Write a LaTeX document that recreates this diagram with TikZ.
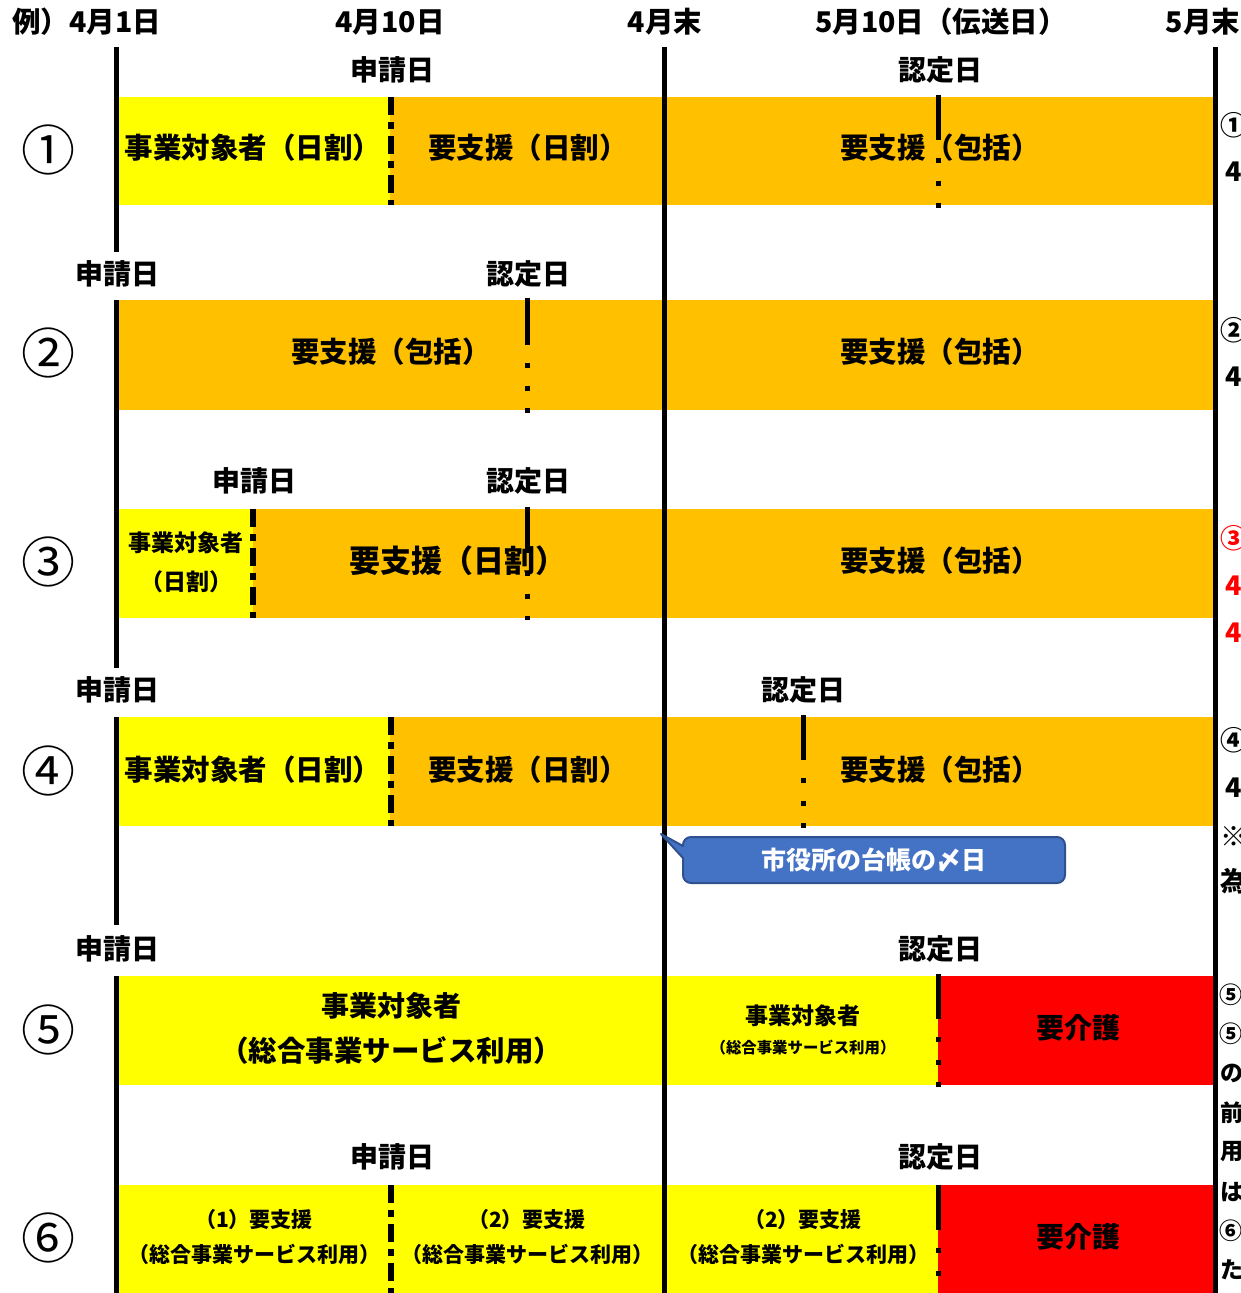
\documentclass[tikz,border=0pt]{standalone}
\usepackage{fontspec}
\setmainfont{Noto Sans CJK JP}
\definecolor{yel}{HTML}{FFFF00}
\definecolor{org}{HTML}{FFC000}
\definecolor{rd}{HTML}{FF0000}
\definecolor{bl}{HTML}{4472C4}
\definecolor{bld}{HTML}{2F528F}
\begin{document}
\begin{tikzpicture}[x=1pt,y=-1pt,
  lbl/.style={font=\fontsize{28}{32}\selectfont\bfseries, inner sep=0pt},
  hdr/.style={font=\fontsize{28.5}{32}\selectfont\bfseries, inner sep=0pt},
  bar/.style={font=\fontsize{28.5}{32}\selectfont\bfseries, inner sep=0pt},
  big/.style={font=\fontsize{28}{32}\selectfont\bfseries, inner sep=0pt},
  bigr/.style={font=\fontsize{31}{34}\selectfont\bfseries, inner sep=0pt},
  mid/.style={font=\fontsize{23}{26}\selectfont\bfseries, inner sep=0pt},
  sml/.style={font=\fontsize{21}{24}\selectfont\bfseries, inner sep=0pt},
  tiny/.style={font=\fontsize{15.4}{17}\selectfont\bfseries, inner sep=0pt},
  num/.style={font=\fontsize{54}{56}\selectfont, inner sep=0pt},
  side/.style={font=\fontsize{27}{29}\selectfont\bfseries, inner sep=0pt, anchor=west},
  sides/.style={font=\fontsize{23}{25}\selectfont\bfseries, inner sep=0pt, anchor=west},
  mainline/.style={line width=5pt},
  appl/.style={line width=6pt, dash pattern=on 18pt off 7pt on 7pt off 7pt},
  solidmark/.style={line width=5pt},
  dotmark/.style={line width=5pt, dash pattern=on 5pt off 17.5pt},
  callout/.style={fill=bl, draw=bld, line width=2pt, line join=round}
]
\useasboundingbox (0,0) rectangle (1240,1293);
\clip (0,0) rectangle (1240,1293);
\fill[white] (0,0) rectangle (1240,1293);

% ---------- bars ----------
\fill[yel] (119,97) rectangle (390,205);
\fill[org] (390,97) rectangle (1215,205);
\fill[org] (119,300) rectangle (1215,410);
\fill[yel] (119,509) rectangle (253,618);
\fill[org] (253,509) rectangle (1215,618);
\fill[yel] (119,717) rectangle (390,826);
\fill[org] (390,717) rectangle (1215,826);
\fill[yel] (119,976) rectangle (938,1085);
\fill[rd] (938,976) rectangle (1215,1085);
\fill[yel] (119,1185) rectangle (938,1293);
\fill[rd] (938,1185) rectangle (1215,1293);

% ---------- main vertical lines ----------
\draw[mainline] (116,47) -- (116,252);
\draw[mainline] (116,300) -- (116,668);
\draw[mainline] (116,717) -- (116,925);
\draw[mainline] (116,976) -- (116,1293);
\draw[mainline] (664.5,47) -- (664.5,1293);
\draw[mainline] (1215,47) -- (1215,1293);

% ---------- application (dash-dot) lines ----------
\draw[appl] (390.5,97) -- (390.5,205);
\draw[appl] (253,509) -- (253,618);
\draw[appl] (390.5,717) -- (390.5,826);
\draw[appl] (390.5,1185) -- (390.5,1293);

% ---------- approval markers ----------
\draw[solidmark] (938,95) -- (938,140);
\draw[dotmark] (938,158) -- (938,208);
\draw[solidmark] (527,298) -- (527,345);
\draw[dotmark] (527,363) -- (527,413);
\draw[solidmark] (527,507) -- (527,553);
\draw[dotmark] (527,571) -- (527,620);
\draw[solidmark] (803,715) -- (803,760);
\draw[dotmark] (803,778) -- (803,828);
\draw[solidmark] (938,974) -- (938,1019);
\draw[dotmark] (938,1037) -- (938,1088);
\draw[solidmark] (938,1185) -- (938,1230);
\draw[dotmark] (938,1248) -- (938,1295);

% ---------- header ----------
\node[hdr, anchor=west] (h1) at (12,22) {例）4月1日};
\node[hdr] (h2) at (390,22) {4月10日};
\node[hdr] (h3) at (665,22) {4月末};
\node[hdr] (h4) at (941,22) {5月10日（伝送日）};
\node[hdr] (h5) at (1203,22) {5月末};

% ---------- event labels ----------
\node[lbl] (s1) at (392,70) {申請日};
\node[lbl] (n1) at (940,70) {認定日};
\node[lbl] (s2) at (117,274) {申請日};
\node[lbl] (n2) at (528,274) {認定日};
\node[lbl] (s3) at (254,481) {申請日};
\node[lbl] (n3) at (528,481) {認定日};
\node[lbl] (s4) at (117,690) {申請日};
\node[lbl] (n4) at (803,690) {認定日};
\node[lbl] (s5) at (117,949) {申請日};
\node[lbl] (n5) at (940,949) {認定日};
\node[lbl] (s6) at (392,1157) {申請日};
\node[lbl] (n6) at (940,1157) {認定日};

% ---------- circled numbers ----------
\node[num] (c1) at (48,150) {①};
\node[num] (c2) at (48,353) {②};
\node[num] (c3) at (48,562) {③};
\node[num] (c4) at (48,771) {④};
\node[num] (c5) at (48,1030) {⑤};
\node[num] (c6) at (48,1238) {⑥};

% ---------- bar texts ----------
\node[bar] (r1a) at (253,148) {事業対象者（日割）};
\node[bar] (r1b) at (528,148) {要支援（日割）};
\node[bar] (r1c) at (940,148) {要支援（包括）};

\node[bar] (r2a) at (391,352) {要支援（包括）};
\node[bar] (r2b) at (940,352) {要支援（包括）};

\node[mid] (r3a) at (186,543) {事業対象者};
\node[mid] (r3b) at (186,582) {（日割）};
\node[bigr] (r3c) at (458,561) {要支援（日割）};
\node[bar] (r3d) at (940,561) {要支援（包括）};

\node[bar] (r4a) at (253,770) {事業対象者（日割）};
\node[bar] (r4b) at (528,770) {要支援（日割）};
\node[bar] (r4c) at (940,770) {要支援（包括）};

\node[big] (r5a) at (391,1006) {事業対象者};
\node[bar] (r5b) at (391,1051) {（総合事業サービス利用）};
\node[mid] (r5c) at (803,1016) {事業対象者};
\node[tiny] (r5d) at (803,1048) {（総合事業サービス利用）};
\node[big] (r5e) at (1078,1028) {要介護};

\node[sml] (r6a) at (254,1220) {（1）要支援};
\node[sml] (r6b) at (254,1254) {（総合事業サービス利用）};
\node[sml] (r6c) at (527,1220) {（2）要支援};
\node[sml] (r6d) at (527,1254) {（総合事業サービス利用）};
\node[sml] (r6e) at (803,1220) {（2）要支援};
\node[sml] (r6f) at (803,1254) {（総合事業サービス利用）};
\node[big] (r6g) at (1078,1237) {要介護};

% ---------- callout ----------
\draw[callout] (683,858) -- (661,834) -- (683,846)
  {[rounded corners=8pt] -- (683,837) -- (1065,837) -- (1065,883) -- (683,883)} -- cycle;
\node[font=\fontsize{25}{28}\selectfont\bfseries, text=white, inner sep=0pt] (co) at (874,860) {市役所の台帳の〆日};

% ---------- right-edge (clipped) notes ----------
\node[side] (e1) at (1220,125) {①};
\node[side] (e2) at (1225,172) {4};
\node[side] (e3) at (1220,330) {②};
\node[side] (e4) at (1225,377) {4};
\node[side, text=rd] (e5) at (1220,538) {③};
\node[side, text=rd] (e6) at (1225,586) {4};
\node[side, text=rd] (e7) at (1225,633) {4};
\node[side] (e8) at (1220,740) {④};
\node[side] (e9) at (1225,788) {4};
\node[side] (e10) at (1220,836) {※};
\node[side] (e11) at (1220,881) {為};
\node[sides] (e12) at (1219,995) {⑤};
\node[sides] (e13) at (1219,1034) {⑤};
\node[sides] (e14) at (1220,1073) {の};
\node[sides] (e15) at (1220,1113) {前};
\node[sides] (e16) at (1220,1152) {用};
\node[sides] (e17) at (1220,1192) {は};
\node[sides] (e18) at (1219,1231) {⑥};
\node[sides] (e19) at (1220,1270) {た};
\end{tikzpicture}
\end{document}
